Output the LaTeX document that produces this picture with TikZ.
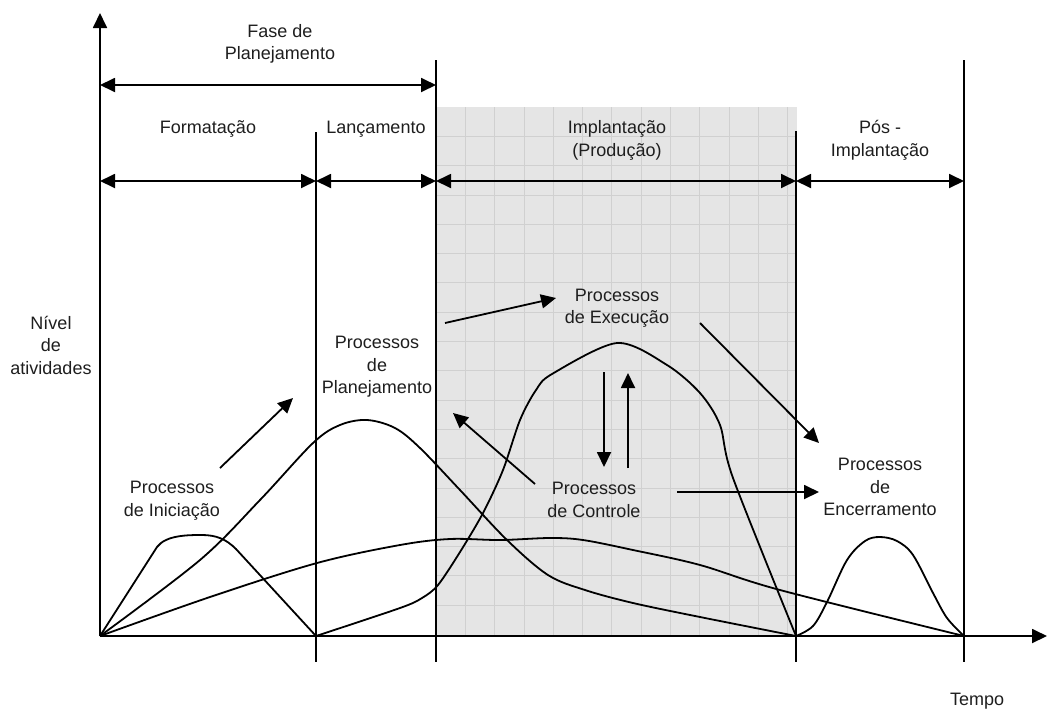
\documentclass[tikz,border=0pt]{standalone}
\usepackage{fontspec}
\setmainfont{Liberation Sans}
\usetikzlibrary{arrows.meta}
\definecolor{bandfill}{HTML}{E5E5E5}
\definecolor{bandgrid}{HTML}{D0D0D0}
\definecolor{ink}{HTML}{1E1E1E}

\begin{document}
\begin{tikzpicture}[x=1pt,y=-1pt,
  tip/.style={line width=1.8pt,-{Triangle[length=15pt,width=14pt]}},
  dbl/.style={line width=1.8pt,{Triangle[length=15pt,width=14pt]}-{Triangle[length=15pt,width=14pt]}},
  rule/.style={line width=1.8pt},
  curve/.style={line width=1.8pt,line join=round},
  lbl/.style={font=\fontsize{18}{22.5}\selectfont,text=ink,align=center,inner sep=0pt}]
\useasboundingbox (0,0) rectangle (1048,713);

% production band with its grid
\fill[bandfill] (436,107) rectangle (797,636);
\foreach \i in {1,...,12}
  \draw[bandgrid,line width=0.7pt] (436+29.3*\i,107) -- (436+29.3*\i,636);
\foreach \j in {1,...,17}
  \draw[bandgrid,line width=0.7pt] (436,107+29.3*\j) -- (797,107+29.3*\j);

% axes
\coordinate (O) at (100,636);
\coordinate (ytop) at (100,13);
\coordinate (xend) at (1047,636);
\draw[tip] (O) -- (ytop);
\draw[tip] (O) -- (xend);

% phase boundaries
\coordinate (v1t) at (316,132); \coordinate (v1b) at (316,662);
\coordinate (v2t) at (436,60);  \coordinate (v2b) at (436,662);
\coordinate (v3t) at (796,131); \coordinate (v3b) at (796,662);
\coordinate (v4t) at (964,60);  \coordinate (v4b) at (964,662);
\draw[rule] (v1t) -- (v1b);
\draw[rule] (v2t) -- (v2b);
\draw[rule] (v3t) -- (v3b);
\draw[rule] (v4t) -- (v4b);

% phase spans
\coordinate (r0) at (100,85);
\coordinate (r1) at (100,181);
\draw[dbl] (r0) -- (v2t |- r0);
\draw[dbl] (r1) -- (v1t |- r1);
\draw[dbl] (v1t |- r1) -- (v2t |- r1);
\draw[dbl] (v2t |- r1) -- (v3t |- r1);
\draw[dbl] (v3t |- r1) -- (v4t |- r1);

% process group curves
% initiating
\draw[curve] (O) -- (157,547) .. controls (166,535) and (188,535) .. (202,535)
  .. controls (216,535) and (226,539) .. (236,549) -- (v1t |- O);
% planning
\draw[curve] plot[smooth,tension=0.55] coordinates {(100,636) (200,560) (260,500) (313,443)
  (340,425) (367,420) (395,428) (420,448) (460,490) (507,540) (548,575) (585,590)
  (633,603) (700,617) (796,636)};
% executing
\draw[curve] plot[smooth,tension=0.5] coordinates {(316,636) (400,608) (422,598) (438,585)
  (460,552) (483,513) (503,470) (520,420) (536,390) (552,374) (617,343) (667,365)
  (700,393) (720,425) (733,478) (796,636)};
% controlling
\draw[curve] plot[smooth,tension=0.55] coordinates {(100,636) (210,597) (317,563) (400,545)
  (450,539) (500,540) (550,538) (583,540) (633,550) (700,565) (780,590) (964,636)};
% closing
\draw[curve] plot[smooth,tension=0.55] coordinates {(796,636) (813,626) (827,602) (847,560)
  (865,541) (880,537) (897,541) (913,555) (933,593) (947,618) (964,636)};

% interaction arrows
\coordinate (a1s) at (220,468); \coordinate (a1e) at (293,398);
\coordinate (a2s) at (445,323); \coordinate (a2e) at (556,298);
\coordinate (a3s) at (700,323); \coordinate (a3e) at (819,443);
\coordinate (a4s) at (535,484); \coordinate (a4e) at (453,413);
\coordinate (a5s) at (604,372); \coordinate (a5e) at (604,467);
\coordinate (a6s) at (628,468); \coordinate (a6e) at (628,373);
\coordinate (a7s) at (677,492); \coordinate (a7e) at (819,492);
\draw[tip] (a1s) -- (a1e);
\draw[tip] (a2s) -- (a2e);
\draw[tip] (a3s) -- (a3e);
\draw[tip] (a4s) -- (a4e);
\draw[tip] (a5s) -- (a5e);
\draw[tip] (a6s) -- (a6e);
\draw[tip] (a7s) -- (a7e);

% labels
\node[lbl] (fase) at (280,44) {Fase de\\Planejamento};
\node[lbl] (form) at (208,129) {Formatação};
\node[lbl] (lanc) at (376,129) {Lançamento};
\node[lbl] (impl) at (617,140.5) {Implantação\\(Produção)};
\node[lbl] (pos) at (880,140.5) {Pós -\\Implantação};
\node[lbl] (nivel) at (51,345) {Nível\\de\\atividades};
\node[lbl] (pplan) at (377,367) {Processos\\de\\Planejamento};
\node[lbl] (pexec) at (617,308) {Processos\\de Execução};
\node[lbl] (pctrl) at (594,500) {Processos\\de Controle};
\node[lbl] (pini) at (172,500.5) {Processos\\de Iniciação};
\node[lbl] (penc) at (880,487) {Processos\\de\\Encerramento};
\node[lbl] (tempo) at (977,701) {Tempo};
\end{tikzpicture}
\end{document}
